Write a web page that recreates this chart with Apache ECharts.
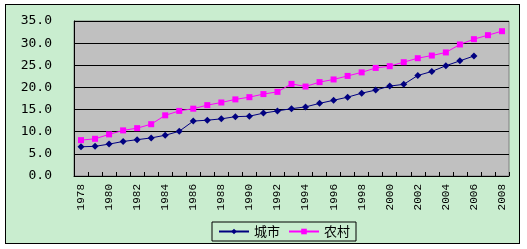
<!DOCTYPE html>
<html>
<head>
<meta charset="utf-8">
<script src="https://cdn.jsdelivr.net/npm/echarts@6/dist/echarts.min.js"></script>
<style>
html,body{margin:0;padding:0;background:#fff;}
#frame{position:absolute;left:5px;top:4px;width:513px;height:238px;background:#c9edcf;border:1px solid #000;}
#chart{position:absolute;left:0;top:0;width:527px;height:249px;}
</style>
</head>
<body>
<div id="frame"></div>
<div id="chart"></div>
<script>
const years = ['1978','1979','1980','1981','1982','1983','1984','1985','1986','1987','1988','1989','1990','1991','1992','1993','1994','1995','1996','1997','1998','1999','2000','2001','2002','2003','2004','2005','2006','2007','2008'];
const urbanName = '城市';
const ruralName = '农村';
const urban = [6.6,6.7,7.2,7.8,8.2,8.6,9.2,10.1,12.4,12.6,12.9,13.4,13.5,14.2,14.7,15.2,15.6,16.4,17.1,17.8,18.7,19.4,20.3,20.7,22.7,23.6,24.9,26.0,27.1];
const rural = [8.1,8.4,9.4,10.3,10.8,11.7,13.7,14.7,15.2,16.0,16.6,17.3,17.8,18.5,19.0,20.8,20.2,21.2,21.8,22.6,23.4,24.4,24.8,25.7,26.6,27.2,27.9,29.7,30.9,31.8,32.7];

const chart = echarts.init(document.getElementById('chart'), null, {renderer:'canvas'});
chart.setOption({
  backgroundColor: 'transparent',
  animation: false,
  grid: {left:74, top:21, right:18, bottom:73, show:true, backgroundColor:'#c0c0c0', borderColor:'#808080', borderWidth:1},
  legend: {
    data:[urbanName, ruralName],
    left:212, top:222,
    itemWidth:30, itemHeight:7, itemGap:8,
    padding:[3,6,3,6],
    borderColor:'#000', borderWidth:1, borderRadius:0,
    backgroundColor:'#c9edcf',
    textStyle:{fontFamily:'Noto Sans CJK SC', fontSize:13, color:'#000'}
  },
  xAxis: {
    type:'category', data:years, boundaryGap:true,
    axisLine:{show:true, lineStyle:{color:'#000', width:1}},
    axisTick:{show:true, inside:true, length:4, interval:0, lineStyle:{color:'#000'}},
    axisLabel:{interval:1, rotate:90, fontFamily:'Liberation Mono', fontSize:11, color:'#000', margin:8},
    splitLine:{show:false}
  },
  yAxis: {
    type:'value', min:0, max:35, interval:5,
    axisLine:{show:true, lineStyle:{color:'#000', width:1}},
    axisTick:{show:false},
    axisLabel:{formatter:v=>v.toFixed(1), fontFamily:'DejaVu Sans Mono', fontSize:13, color:'#000', margin:22},
    splitLine:{show:true, lineStyle:{color:'#000', width:1}}
  },
  series: [
    {name:urbanName, type:'line', data:urban, symbol:'diamond', symbolSize:7, showAllSymbol:true,
     lineStyle:{color:'#000080', width:1}, itemStyle:{color:'#000080'}},
    {name:ruralName, type:'line', data:rural, symbol:'rect', symbolSize:6, showAllSymbol:true,
     lineStyle:{color:'#ff00ff', width:1}, itemStyle:{color:'#ff00ff'}}
  ]
});
</script>
</body>
</html>
